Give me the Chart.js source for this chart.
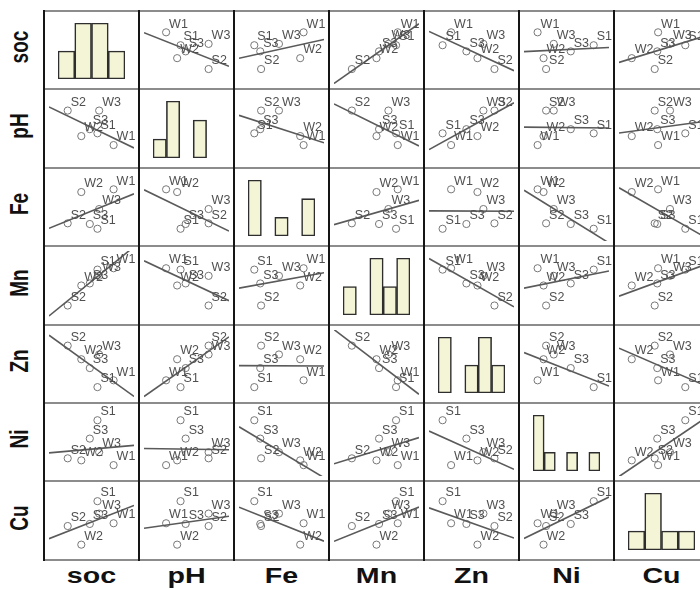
<!DOCTYPE html>
<html>
<head>
<meta charset="utf-8">
<script src="https://cdn.jsdelivr.net/npm/chart.js@4/dist/chart.umd.min.js"></script>
<style>
html,body{margin:0;padding:0;background:#fff;width:700px;height:590px;overflow:hidden;}
#wrap{position:relative;width:700px;height:590px;overflow:hidden;}
canvas.cell{position:absolute;}
.vline{position:absolute;width:2px;background:#151515;z-index:3;}
.hline{position:absolute;height:2px;background:#8c8c8c;z-index:2;}
.rlab,.clab{position:absolute;font-family:"Liberation Sans",Arial,sans-serif;font-weight:bold;color:#111;text-align:center;white-space:nowrap;}
.rlab{width:80px;height:24px;line-height:24px;font-size:19px;transform:scaleX(1.35) rotate(-90deg);}
.clab{width:95px;height:26px;line-height:26px;font-size:22px;transform:scaleX(1.3);}
</style>
</head>
<body>
<div id="wrap"></div>
<script>
// ---- data (on a 0-10 plotting scale) ----
const variables = ['soc', 'pH', 'Fe', 'Mn', 'Zn', 'Ni', 'Cu'];
const samples   = ['W1', 'W2', 'W3', 'S1', 'S2', 'S3'];
const soc = [7.6, 3.8, 5.9, 5.7, 2.2, 4.8];
const pH  = [2.6, 3.9, 7.6, 4.3, 7.6, 4.9];
const Fe  = [7.6, 7.2, 4.7, 1.8, 2.6, 2.5];
const Mn  = [7.5, 5.0, 6.4, 7.3, 2.1, 5.3];
const Zn  = [2.6, 5.7, 6.4, 1.6, 7.7, 4.4];
const Ni  = [1.6, 2.3, 3.5, 8.2, 2.6, 5.5];
const Cu  = [4.6, 1.5, 6.0, 7.8, 4.2, 4.5];
// histogram bin counts on the diagonal
const histSoc = [1, 2, 2, 1];
const histPH  = [1, 3, 0, 2, 0];
const histFe  = [3, 0, 1, 0, 2];
const histMn  = [1, 0, 2, 1, 2];
const histZn  = [2, 0, 1, 2, 1];
const histNi  = [3, 1, 0, 1, 0, 1];
const histCu  = [1, 3, 1, 1];

const values = [soc, pH, Fe, Mn, Zn, Ni, Cu];
const hists  = [histSoc, histPH, histFe, histMn, histZn, histNi, histCu];

// ---- layout ----
const X0 = 44, CW = 95, Y0 = 11, RH = 78.4, N = variables.length;
const wrap = document.getElementById('wrap');
const colLeft = j => Math.round(X0 + CW * j);
const rowTop  = i => Math.round(Y0 + RH * i);

function fit(xs, ys) {
  const n = xs.length;
  const mx = xs.reduce((a, b) => a + b, 0) / n;
  const my = ys.reduce((a, b) => a + b, 0) / n;
  let sxy = 0, sxx = 0;
  for (let k = 0; k < n; k++) { sxy += (xs[k] - mx) * (ys[k] - my); sxx += (xs[k] - mx) ** 2; }
  const b = sxy / sxx;
  return { a: my - b * mx, b };
}

const labelPlugin = {
  id: 'pointLabels',
  afterDatasetsDraw(chart) {
    const meta = chart.getDatasetMeta(1);
    const ctx = chart.ctx;
    ctx.save();
    ctx.font = '12.5px "Liberation Sans", Arial, sans-serif';
    ctx.fillStyle = '#505050';
    ctx.textAlign = 'left';
    ctx.textBaseline = 'bottom';
    meta.data.forEach((el, k) => ctx.fillText(samples[k], el.x + 3, el.y - 2));
    ctx.restore();
  }
};

const hiddenLinear = { type: 'linear', min: 0, max: 10, display: false };

for (let i = 0; i < N; i++) {
  for (let j = 0; j < N; j++) {
    const cv = document.createElement('canvas');
    cv.className = 'cell';
    const w = CW, h = rowTop(i + 1) - rowTop(i);
    cv.width = w; cv.height = h;
    cv.style.left = colLeft(j) + 'px';
    cv.style.top = rowTop(i) + 'px';
    cv.style.width = w + 'px'; cv.style.height = h + 'px';
    wrap.appendChild(cv);
    const common = {
      responsive: false, animation: false, devicePixelRatio: 1,
      plugins: { legend: { display: false }, tooltip: { enabled: false } },
      events: []
    };
    if (i === j) {
      const hist = hists[i];
      new Chart(cv, {
        type: 'bar',
        data: {
          labels: hist.map((_, k) => 'b' + k),
          datasets: [{
            data: hist, backgroundColor: '#f4f4d6', borderColor: '#2e2e2e',
            borderWidth: 1.6, borderSkipped: false,
            barPercentage: 1, categoryPercentage: 1
          }]
        },
        options: Object.assign({}, common, {
          layout: { padding: { left: 14, right: 14, top: 12, bottom: 10 } },
          scales: {
            x: { display: false },
            y: { display: false, min: 0, max: Math.max(...hist) }
          }
        })
      });
    } else {
      const xs = values[j], ys = values[i];
      const f = fit(xs, ys);
      new Chart(cv, {
        type: 'scatter',
        data: {
          datasets: [
            {
              data: [{ x: 0, y: f.a }, { x: 10, y: f.a + 10 * f.b }],
              showLine: true, pointRadius: 0, borderColor: '#5a5a5a', borderWidth: 1.6
            },
            {
              data: xs.map((x, k) => ({ x, y: ys[k] })),
              pointStyle: 'circle', pointRadius: 3.6,
              pointBorderColor: '#777', pointBackgroundColor: 'rgba(255,255,255,0)',
              pointBorderWidth: 1
            }
          ]
        },
        options: Object.assign({}, common, {
          layout: { padding: 0 },
          scales: { x: hiddenLinear, y: hiddenLinear }
        }),
        plugins: [labelPlugin]
      });
    }
  }
}

// grid frame
for (let j = 0; j <= N; j++) {
  const d = document.createElement('div');
  d.className = 'vline';
  d.style.left = (colLeft(j) - 1) + 'px';
  d.style.top = (rowTop(0) - 1) + 'px';
  d.style.height = (rowTop(N) - rowTop(0) + 2) + 'px';
  wrap.appendChild(d);
}
for (let i = 0; i <= N; i++) {
  const d = document.createElement('div');
  d.className = 'hline';
  d.style.left = colLeft(0) + 'px';
  d.style.top = (rowTop(i) - 1) + 'px';
  d.style.width = (700 - colLeft(0)) + 'px';
  wrap.appendChild(d);
}
// axis titles
variables.forEach((v, i) => {
  const r = document.createElement('div');
  r.className = 'rlab';
  r.textContent = v;
  const cy = (rowTop(i) + rowTop(i + 1)) / 2 - 3;
  r.style.left = (20 - 40) + 'px';
  r.style.top = (cy - 12) + 'px';
  wrap.appendChild(r);
  const c = document.createElement('div');
  c.className = 'clab';
  c.textContent = v;
  c.style.left = colLeft(i) + 'px';
  c.style.top = '563px';
  wrap.appendChild(c);
});
</script>
</body>
</html>
